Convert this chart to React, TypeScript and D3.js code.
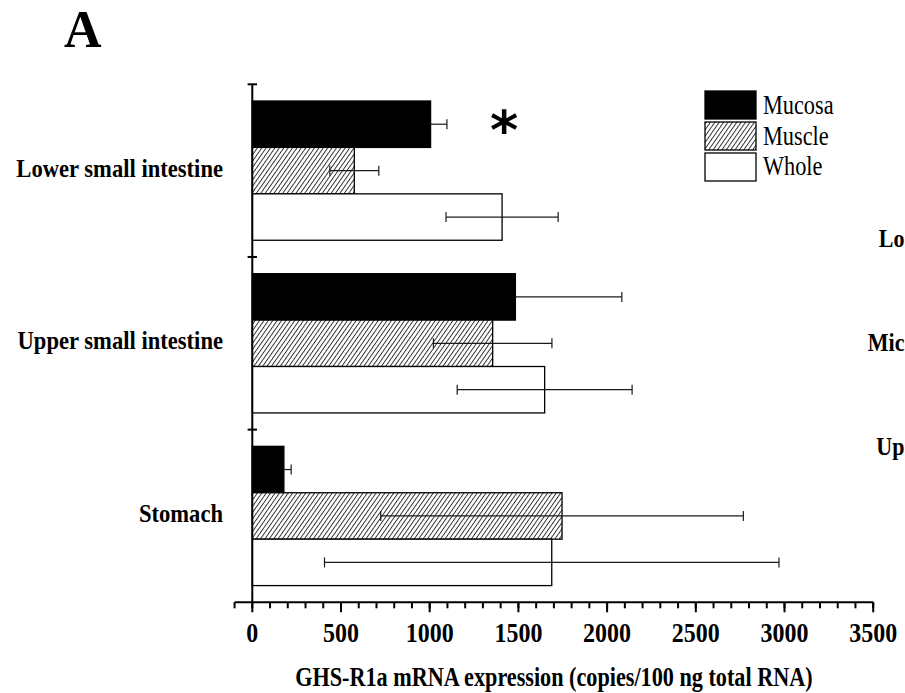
import React from "react";
import * as d3 from "d3";

const categories = ["Lower small intestine", "Upper small intestine", "Stomach"];
const series = ["Mucosa", "Muscle", "Whole"];
const mucosa = [1005, 1483, 178];
const mucosaErr = [92, 600, 41];
const muscle = [575, 1355, 1746];
const muscleErr = [138, 334, 1022];
const whole = [1408, 1648, 1688];
const wholeErr = [316, 493, 1281];
const majorTicks = [0, 500, 1000, 1500, 2000, 2500, 3000, 3500];
const minorTicks = d3.range(-100, 3501, 100);
const sideLabels = ["Lo", "Mic", "Up"];

const W = 905;
const H = 693;
const SERIF = "'Liberation Serif', 'Times New Roman', serif";

function Txt(props: {
  x: number; y: number; size: number; sy?: number; weight?: string | number;
  anchor?: string; family?: string; children: React.ReactNode;
}) {
  const { x, y, size, sy = 1, weight = "bold", anchor = "start", family = SERIF } = props;
  return (
    <g transform={`translate(${x},${y}) scale(1,${sy})`}>
      <text x={0} y={0} fontSize={size} fontWeight={weight} textAnchor={anchor}
        fontFamily={family} fill="#000">{props.children}</text>
    </g>
  );
}

export default function App() {
  const x = d3.scaleLinear().domain([0, 3500]).range([252.3, 873.2]);
  const y = d3.scaleBand<string>().domain(categories).range([84.3, 602.3]).padding(0);
  const inner = d3.scaleBand<string>().domain(series).range([0, y.bandwidth()])
    .paddingInner(0).paddingOuter(0.36);
  const values = [mucosa, muscle, whole];
  const errs = [mucosaErr, muscleErr, wholeErr];
  const fills = ["#000", "url(#hatch)", "#fff"];
  const axisY = y.range()[1];
  const x0 = x(0);

  return (
    <svg width={W} height={H} style={{ position: "absolute", left: 0, top: 0, background: "#fff" }}
      viewBox={`0 0 ${W} ${H}`}>
      <defs>
        <pattern id="hatch" width={3.6} height={3.6} patternUnits="userSpaceOnUse"
          patternTransform="rotate(35)">
          <rect width={3.6} height={3.6} fill="#fff" />
          <line x1={0.5} y1={0} x2={0.5} y2={3.6} stroke="#222" strokeWidth={0.9} />
        </pattern>
      </defs>
      <rect width={W} height={H} fill="#fff" />

      {/* Panel letter */}
      <text x={64} y={47} fontSize={52} fontWeight="bold" fontFamily={SERIF} fill="#000">A</text>

      {/* Bars */}
      {series.map((s, si) => (
        <g key={s}>
          {categories.map((c, ci) => {
            const by = (y(c) as number) + (inner(s) as number);
            return (
              <rect key={c} x={x0} y={by} width={x(values[si][ci]) - x0} height={inner.bandwidth()}
                fill={fills[si]} stroke="#000" strokeWidth={1.3} />
            );
          })}
        </g>
      ))}

      {/* Error bars (mucosa: only the visible upper half, the lower half lies on the black bar) */}
      {series.map((s, si) => (
        <g key={s + "e"} stroke="#1a1a1a" strokeWidth={1.2}>
          {categories.map((c, ci) => {
            const cy = (y(c) as number) + (inner(s) as number) + inner.bandwidth() / 2;
            const oneSided = si === 0;
            const lo = oneSided ? x(values[si][ci]) : x(values[si][ci] - errs[si][ci]);
            const hi = x(values[si][ci] + errs[si][ci]);
            return (
              <g key={c}>
                <line x1={lo} x2={hi} y1={cy} y2={cy} />
                {!oneSided && <line x1={lo} x2={lo} y1={cy - 5} y2={cy + 5} />}
                <line x1={hi} x2={hi} y1={cy - 5} y2={cy + 5} />
              </g>
            );
          })}
        </g>
      ))}

      {/* Significance asterisk */}
      <text x={x(1420)} y={(y(categories[0]) as number) + (inner("Mucosa") as number) + inner.bandwidth() / 2 + 25}
        fontSize={54} fontWeight="bold" textAnchor="middle"
        fontFamily="'DejaVu Sans', sans-serif" fill="#000">*</text>

      {/* Y axis */}
      <line x1={x0} x2={x0} y1={y.range()[0]} y2={axisY} stroke="#000" strokeWidth={2} />
      {categories.map((c) => (
        <line key={c + "t"} x1={x0 - 4.7} x2={x0 + 4.7} y1={y(c) as number} y2={y(c) as number}
          stroke="#000" strokeWidth={2} />
      ))}
      {categories.map((c) => (
        <Txt key={c + "l"} x={223} y={(y(c) as number) + y.bandwidth() / 2 + 6} size={22.6} sy={1.1}
          anchor="end">{c}</Txt>
      ))}

      {/* X axis */}
      <line x1={x(-100)} x2={x(3500)} y1={axisY} y2={axisY} stroke="#000" strokeWidth={2} />
      {minorTicks.map((t) => (
        <line key={"m" + t} x1={x(t)} x2={x(t)} y1={axisY} y2={axisY + 6} stroke="#000" strokeWidth={2} />
      ))}
      {majorTicks.map((t) => (
        <line key={"M" + t} x1={x(t)} x2={x(t)} y1={axisY} y2={axisY + 10} stroke="#000" strokeWidth={2} />
      ))}
      {majorTicks.map((t) => (
        <Txt key={"L" + t} x={x(t)} y={641.5} size={24} sy={1.1} anchor="middle">{String(t)}</Txt>
      ))}
      <Txt x={(x(-100) + x(3500)) / 2} y={686} size={22.2} sy={1.2} anchor="middle">
        GHS-R1a mRNA expression (copies/100 ng total RNA)
      </Txt>

      {/* Legend */}
      {series.map((s, i) => (
        <g key={s + "leg"}>
          <rect x={705} y={91 + i * 31} width={51} height={28} fill={fills[i]} stroke="#000" strokeWidth={1.3} />
          <Txt x={763} y={114.3 + i * 30.4} size={22.3} sy={1.25} weight="normal">{s}</Txt>
        </g>
      ))}

      {/* Labels of the adjacent panel, at the picture's right edge as in the reference */}
      <Txt x={878.8} y={246.7} size={22} sy={1.16} anchor="start">{sideLabels[0]}</Txt>
      <Txt x={867.8} y={350.7} size={22} sy={1.16} anchor="start">{sideLabels[1]}</Txt>
      <Txt x={876.3} y={455} size={22} sy={1.16} anchor="start">{sideLabels[2]}</Txt>
    </svg>
  );
}
